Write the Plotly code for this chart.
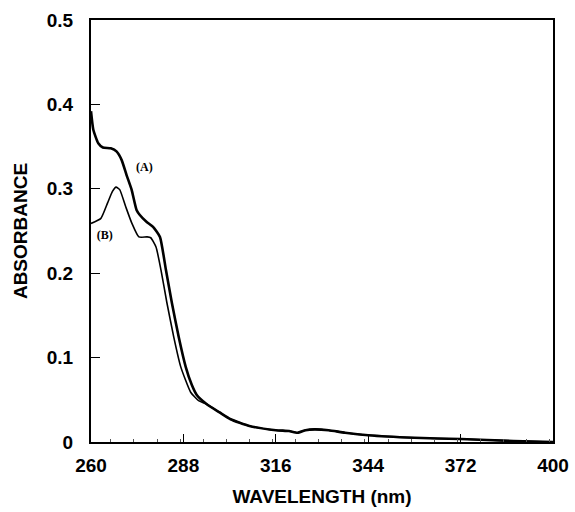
import plotly.graph_objects as go

# Curve (A)
a_nm = [260, 260.7, 262.2, 263.6, 266.0, 267.8, 269.3, 270.8, 272.3, 273.8, 274.8,
        276.8, 278.8, 280.9, 282.7, 284.5, 286.6, 288.7, 290.5, 292.0, 295.0, 299.0,
        302.3, 308.0, 316.0, 320.0, 322.6, 325.0, 327.7, 332.0, 337.0, 344.0, 358.0,
        372.0, 388.0, 400.0]
a_abs = [0.392, 0.370, 0.354, 0.349, 0.348, 0.344, 0.334, 0.316, 0.299, 0.275, 0.269,
         0.261, 0.255, 0.243, 0.204, 0.165, 0.124, 0.089, 0.068, 0.056, 0.045, 0.035,
         0.027, 0.019, 0.014, 0.013, 0.011, 0.014, 0.015, 0.014, 0.011, 0.008, 0.005,
         0.0035, 0.0012, 0.0]

# Curve (B)
b_nm = [260, 263.0, 265.0, 266.5, 267.6, 268.7, 270.5, 272.4, 274.5, 277.0, 278.1,
        279.7, 281.2, 283.0, 285.1, 287.2, 290.2, 292.6, 295.0, 299.0, 302.3, 308.0,
        316.0, 320.0, 322.6, 325.0, 327.7, 332.0, 337.0, 344.0, 358.0, 372.0, 388.0, 400.0]
b_abs = [0.259, 0.265, 0.283, 0.297, 0.302, 0.299, 0.279, 0.259, 0.243, 0.243, 0.242,
         0.231, 0.204, 0.165, 0.124, 0.089, 0.059, 0.049, 0.045, 0.035, 0.027, 0.019,
         0.014, 0.013, 0.011, 0.014, 0.015, 0.014, 0.011, 0.008, 0.005, 0.0035, 0.0012, 0.0]

x_ticks = [260, 288, 316, 344, 372, 400]
y_ticks = [0, 0.1, 0.2, 0.3, 0.4, 0.5]
y_tick_labels = ["0", "0.1", "0.2", "0.3", "0.4", "0.5"]

labels = ["<b>(A)</b>", "<b>(B)</b>"]
label_x = [276.2, 264.2]
label_y = [0.325, 0.244]

fig = go.Figure()
fig.add_trace(go.Scatter(x=a_nm, y=a_abs, mode="lines",
                         line=dict(color="black", width=2.6, shape="spline", smoothing=0.5),
                         showlegend=False, hoverinfo="skip"))
fig.add_trace(go.Scatter(x=b_nm, y=b_abs, mode="lines",
                         line=dict(color="black", width=1.6, shape="spline", smoothing=0.5),
                         showlegend=False, hoverinfo="skip"))
fig.add_trace(go.Scatter(x=label_x, y=label_y, mode="text", text=labels,
                         textfont=dict(family="Liberation Serif", size=12, color="black"),
                         showlegend=False, hoverinfo="skip"))

axis_font = dict(family="Liberation Sans, Arial, sans-serif", size=19, color="black", weight="bold")

fig.update_layout(
    width=575, height=512,
    margin=dict(l=91, r=22, t=20, b=70),
    paper_bgcolor="white", plot_bgcolor="white",
    font=axis_font,
    xaxis=dict(range=[260, 400], tickvals=x_ticks, ticktext=[str(v) for v in x_ticks],
               ticks="inside", ticklen=8, tickwidth=1, tickcolor="black",
               showline=True, linecolor="black", linewidth=2, mirror=True,
               showgrid=False, zeroline=False, ticklabelstandoff=5, automargin=False,
               minor=dict(ticks="inside", ticklen=3, tickcolor="#555", dtick=7),
               title=dict(text="WAVELENGTH (nm)", font=axis_font, standoff=15),
               tickfont=axis_font),
    yaxis=dict(range=[0, 0.5], tickvals=y_ticks, ticktext=y_tick_labels,
               ticks="inside", ticklen=9, tickwidth=1, tickcolor="black",
               showline=True, linecolor="black", linewidth=2, mirror=True,
               showgrid=False, zeroline=False, ticklabelstandoff=12, automargin=False,
               title=dict(text="ABSORBANCE", font=axis_font, standoff=14),
               tickfont=axis_font),
)

fig.write_html("out.html", config={"displayModeBar": False},
               post_script="document.body.style.margin='0';")
